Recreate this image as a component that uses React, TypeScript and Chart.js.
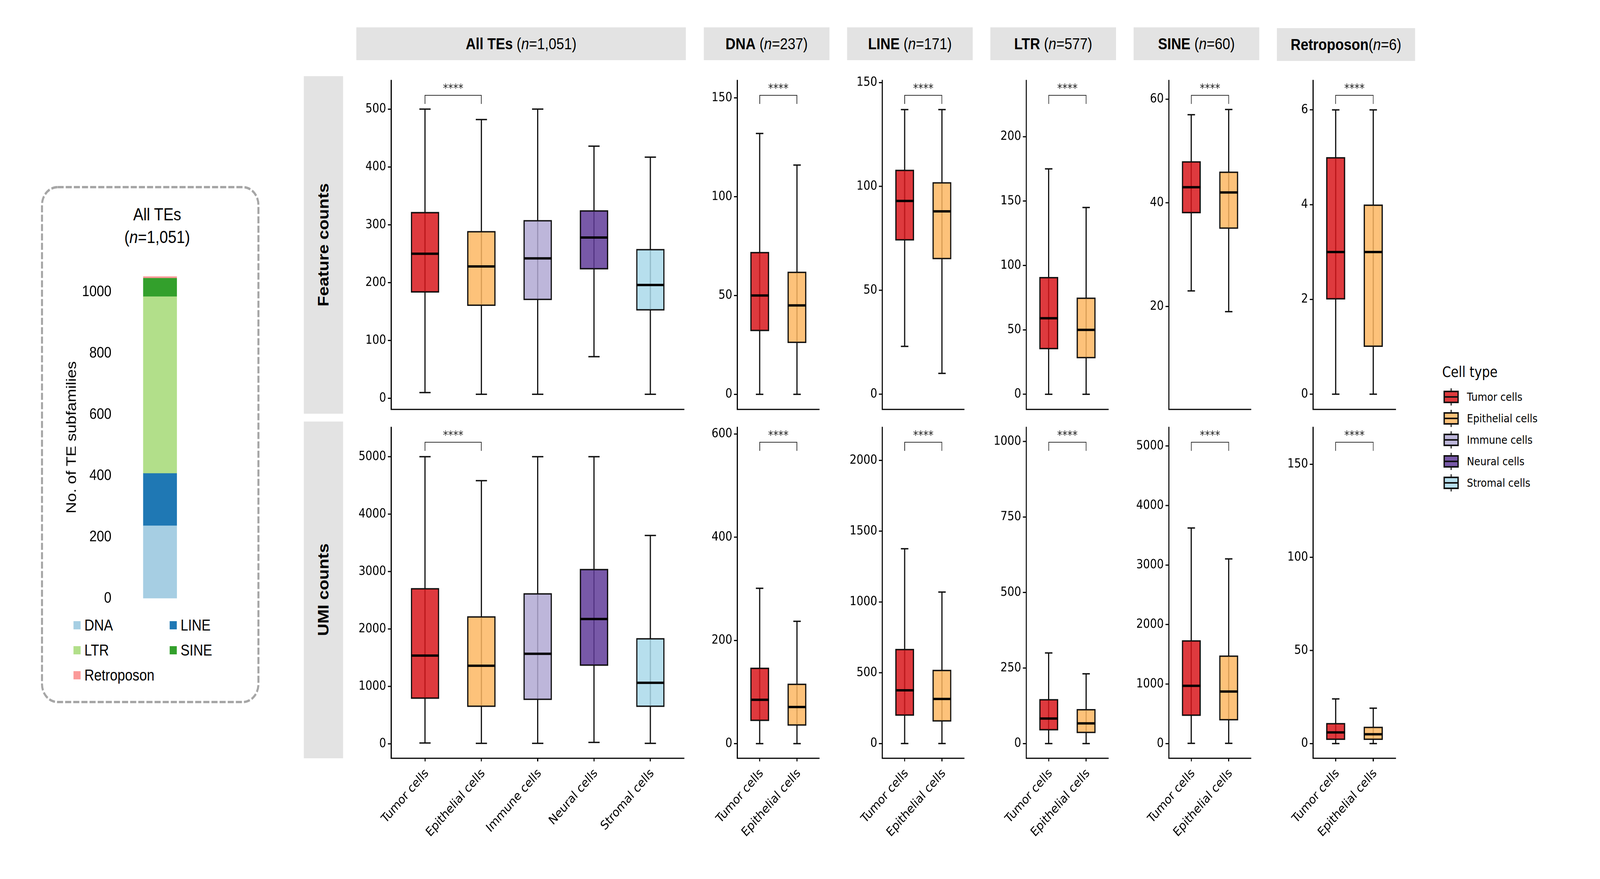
import { useEffect, useRef } from "react";
import { Chart, registerables } from "chart.js";

Chart.register(...registerables);

const MONO = "'DejaVu Sans', sans-serif";
const SANS = "'Liberation Sans', Arial, sans-serif";
const INK = "#111111";

// the layout below is in reference pixels; the page is fitted to the real window
const PAGE_W = 4724;
const PAGE_H = 2250;

// stacked bar
const families = ["DNA", "LINE", "LTR", "SINE", "Retroposon"];
const familyCounts = [237, 171, 577, 60, 6];
const familyColors = ["#A6CEE3", "#1F78B4", "#B2DF8A", "#33A02C", "#FB9A99"];
const stackTicks = [0, 200, 400, 600, 800, 1000];

// cell types
const cellTypes = ["Tumor cells", "Epithelial cells", "Immune cells", "Neural cells", "Stromal cells"];
const cellFills = [
  "rgba(216,23,28,0.85)",
  "rgba(253,183,99,0.85)",
  "rgba(177,169,212,0.85)",
  "rgba(96,60,153,0.85)",
  "rgba(170,217,234,0.85)",
];
const cellKeys = ["#DE3A3D", "#FDC27A", "#BDB6DA", "#7859A8", "#B7DFED"];

// boxes: [low whisker, q1, median, q3, high whisker]
const allFeature = [[10, 183, 250, 322, 500], [7, 160, 228, 289, 482], [7, 170, 242, 308, 500], [72, 223, 278, 325, 436], [7, 152, 196, 258, 417]];
const dnaFeature = [[0, 32, 50, 72, 132], [0, 26, 45, 62, 116]];
const lineFeature = [[23, 74, 93, 108, 137], [10, 65, 88, 102, 137]];
const ltrFeature = [[0, 35, 59, 91, 175], [0, 28, 50, 75, 145]];
const sineFeature = [[23, 38, 43, 48, 57], [19, 35, 42, 46, 58]];
const retroFeature = [[0, 2, 3, 5, 6], [0, 1, 3, 4, 6]];

const allUmi = [[16, 787, 1538, 2711, 5000], [10, 646, 1361, 2221, 4583], [10, 766, 1569, 2622, 5000], [26, 1361, 2174, 3045, 5000], [10, 646, 1064, 1840, 3629]];
const dnaUmi = [[0, 44, 85, 147, 301], [0, 35, 71, 116, 237]];
const lineUmi = [[0, 197, 376, 668, 1376], [0, 156, 315, 520, 1070]];
const ltrUmi = [[0, 44, 83, 147, 300], [0, 35, 67, 114, 231]];
const sineUmi = [[5, 468, 971, 1735, 3622], [5, 392, 875, 1479, 3103]];
const retroUmi = [[0, 2, 6, 11, 24], [0, 2, 5, 9, 19]];

// y ticks
const allFeatureTicks = [0, 100, 200, 300, 400, 500];
const dnaFeatureTicks = [0, 50, 100, 150];
const lineFeatureTicks = [0, 50, 100, 150];
const ltrFeatureTicks = [0, 50, 100, 150, 200];
const sineFeatureTicks = [20, 40, 60];
const retroFeatureTicks = [0, 2, 4, 6];
const allUmiTicks = [0, 1000, 2000, 3000, 4000, 5000];
const dnaUmiTicks = [0, 200, 400, 600];
const lineUmiTicks = [0, 500, 1000, 1500, 2000];
const ltrUmiTicks = [0, 250, 500, 750, 1000];
const sineUmiTicks = [0, 1000, 2000, 3000, 4000, 5000];
const retroUmiTicks = [0, 50, 100, 150];

const columns = [
  { axisX: 1155, plotW: 865, strip: [1052, 2025, 70], name: "All TEs", n: " (", count: "=1,051)" },
  { axisX: 2177, plotW: 242, strip: [2078, 2449, 70], name: "DNA", n: " (", count: "=237)" },
  { axisX: 2605, plotW: 242, strip: [2501, 2872, 70], name: "LINE", n: " (", count: "=171)" },
  { axisX: 3030, plotW: 243, strip: [2924, 3295, 70], name: "LTR", n: " (", count: "=577)" },
  { axisX: 3451, plotW: 243, strip: [3347, 3718, 70], name: "SINE", n: " (", count: "=60)" },
  { axisX: 3877, plotW: 244, strip: [3770, 4178, 72], name: "Retroposon", n: "(", count: "=6)" },
];
const rows = [
  { top: 206, bottom: 1052, label: "Feature counts", stripTop: 195, stripBottom: 1059, below: 20 },
  { top: 1094, bottom: 1941, label: "UMI counts", stripTop: 1079, stripBottom: 1941, below: 300 },
];
const featurePanels = [
  { boxes: allFeature, ticks: allFeatureTicks, range: [-19, 549.5] },
  { boxes: dnaFeature, ticks: dnaFeatureTicks, range: [-7.6, 158.8] },
  { boxes: lineFeature, ticks: lineFeatureTicks, range: [-7.3, 151] },
  { boxes: ltrFeature, ticks: ltrFeatureTicks, range: [-11.7, 243.6] },
  { boxes: sineFeature, ticks: sineFeatureTicks, range: [0.15, 63.6] },
  { boxes: retroFeature, ticks: retroFeatureTicks, range: [-0.32, 6.62] },
];
const umiPanels = [
  { boxes: allUmi, ticks: allUmiTicks, range: [-250, 5510] },
  { boxes: dnaUmi, ticks: dnaUmiTicks, range: [-28.4, 612.8] },
  { boxes: lineUmi, ticks: lineUmiTicks, range: [-104, 2233] },
  { boxes: ltrUmi, ticks: ltrUmiTicks, range: [-48.6, 1046.6] },
  { boxes: sineUmi, ticks: sineUmiTicks, range: [-246, 5312] },
  { boxes: retroUmi, ticks: retroUmiTicks, range: [-7.9, 169.8] },
];

const GUTTER = 200;
const HEAD = 30;

// whiskers go under the translucent boxes, medians and the bracket over them
function boxMarks(boxes: number[][]) {
  return {
    id: "boxMarks",
    beforeDatasetsDraw(chart: any) {
      const { ctx, scales: { x, y } } = chart;
      ctx.save();
      ctx.strokeStyle = INK;
      ctx.lineWidth = 3.5;
      boxes.forEach((b, i) => {
        const cx = x.getPixelForValue(i);
        ctx.beginPath();
        ctx.moveTo(cx, y.getPixelForValue(b[0]));
        ctx.lineTo(cx, y.getPixelForValue(b[4]));
        for (const end of [b[0], b[4]]) {
          ctx.moveTo(x.getPixelForValue(i - 0.1), y.getPixelForValue(end));
          ctx.lineTo(x.getPixelForValue(i + 0.1), y.getPixelForValue(end));
        }
        ctx.stroke();
      });
      ctx.restore();
    },
    afterDatasetsDraw(chart: any) {
      const { ctx, chartArea, scales: { x, y } } = chart;
      ctx.save();
      ctx.strokeStyle = "#000";
      ctx.lineWidth = 6;
      boxes.forEach((b, i) => {
        ctx.beginPath();
        ctx.moveTo(x.getPixelForValue(i - 0.25), y.getPixelForValue(b[2]));
        ctx.lineTo(x.getPixelForValue(i + 0.25), y.getPixelForValue(b[2]));
        ctx.stroke();
      });
      const x0 = x.getPixelForValue(0);
      const x1 = x.getPixelForValue(1);
      ctx.strokeStyle = "#333";
      ctx.lineWidth = 2;
      ctx.beginPath();
      ctx.moveTo(x0, chartArea.top + 60);
      ctx.lineTo(x0, chartArea.top + 38);
      ctx.lineTo(x1, chartArea.top + 38);
      ctx.lineTo(x1, chartArea.top + 60);
      ctx.stroke();
      ctx.fillStyle = "#222";
      ctx.font = `30px ${MONO}`;
      ctx.textAlign = "center";
      ctx.textBaseline = "alphabetic";
      ctx.fillText("****", (x0 + x1) / 2, chartArea.top + 30);
      ctx.restore();
    },
  };
}

function BoxPanel({ col, row, panel, showLabels }: any) {
  const ref = useRef<HTMLCanvasElement>(null);
  const plotH = row.bottom - row.top;
  const n = panel.boxes.length;
  useEffect(() => {
    if (!ref.current) return;
    const chart = new Chart(ref.current, {
      type: "bar",
      data: {
        datasets: [
          {
            data: panel.boxes.map((b: number[], i: number) => ({ x: i, y: [b[1], b[3]] })),
            backgroundColor: cellFills.slice(0, n),
            borderColor: INK,
            borderWidth: 3.5,
            borderSkipped: false,
            barThickness: (col.plotW / (n + 0.2)) * 0.5,
          },
        ],
      },
      options: {
        animation: false,
        responsive: false,
        devicePixelRatio: 2,
        events: [],
        layout: { padding: { top: HEAD, right: 20, left: 0, bottom: 0 } },
        plugins: { legend: { display: false }, tooltip: { enabled: false } },
        scales: {
          x: {
            type: "linear",
            offset: false,
            min: -0.6,
            max: n - 0.4,
            bounds: "data",
            afterFit: (s: any) => { s.height = row.below; },
            afterBuildTicks: (s: any) => { s.ticks = panel.boxes.map((_: any, i: number) => ({ value: i })); },
            grid: { offset: false, drawOnChartArea: false, drawTicks: showLabels, tickLength: 8, tickWidth: 3, tickColor: "#000" },
            border: { display: true, color: "#000", width: 3 },
            ticks: {
              display: showLabels,
              autoSkip: false,
              minRotation: 45,
              maxRotation: 45,
              padding: 12,
              labelOffset: 6,
              color: "#000",
              font: { family: MONO, size: 32 },
              callback: (v: any) => cellTypes[v],
            },
          },
          y: {
            type: "linear",
            min: panel.range[0],
            max: panel.range[1],
            bounds: "data",
            afterFit: (s: any) => { s.width = GUTTER; },
            afterBuildTicks: (s: any) => { s.ticks = panel.ticks.map((value: number) => ({ value })); },
            grid: { drawOnChartArea: false, tickLength: 10, tickWidth: 3, tickColor: "#000" },
            border: { display: true, color: "#000", width: 3 },
            ticks: { padding: 5, autoSkip: false, color: "#000", font: { family: MONO, size: 32 }, callback: (v: any) => String(v) },
          },
        },
      },
      plugins: [boxMarks(panel.boxes)],
    } as any);
    return () => chart.destroy();
  }, []);
  return (
    <canvas
      ref={ref}
      width={GUTTER + col.plotW + 20}
      height={HEAD + plotH + row.below}
      style={{ position: "absolute", left: col.axisX - GUTTER, top: row.top - HEAD, display: "block" }}
    />
  );
}

function StackedBar() {
  const ref = useRef<HTMLCanvasElement>(null);
  useEffect(() => {
    if (!ref.current) return;
    const chart = new Chart(ref.current, {
      type: "bar",
      data: {
        labels: ["All TEs"],
        datasets: families.map((f, i) => ({
          label: f,
          data: [familyCounts[i]],
          backgroundColor: familyColors[i],
          barThickness: 99,
        })),
      },
      options: {
        animation: false,
        responsive: false,
        devicePixelRatio: 2,
        events: [],
        layout: { padding: { top: 30, bottom: 30 } },
        plugins: { legend: { display: false }, tooltip: { enabled: false } },
        scales: {
          x: { stacked: true, display: false },
          y: {
            stacked: true,
            min: 0,
            max: 1051,
            afterFit: (s: any) => { s.width = 164; },
            afterBuildTicks: (s: any) => { s.ticks = stackTicks.map((value) => ({ value })); },
            grid: { display: false },
            border: { display: false },
            ticks: { padding: 8, color: "#000", font: { family: SANS, size: 39 }, callback: (v: any) => String(v) },
            title: { display: true, text: "No. of TE subfamilies", color: "#000", font: { family: SANS, size: 41 }, padding: { top: 7, bottom: 0 } },
          },
        },
      },
    } as any);
    return () => chart.destroy();
  }, []);
  return <canvas ref={ref} width={419} height={887} style={{ position: "absolute", left: 181, top: 676, display: "block" }} />;
}

function LegendKey({ top, fill }: { top: number; fill: string }) {
  return (
    <svg width={50} height={44} style={{ position: "absolute", left: 4260, top, display: "block" }}>
      <line x1={24.5} x2={24.5} y1={0} y2={44} stroke={INK} strokeWidth={3} />
      <rect x={4} y={8} width={41} height={28} fill={fill} stroke={INK} strokeWidth={4} />
      <line x1={4} x2={45} y1={22} y2={22} stroke={INK} strokeWidth={4} />
    </svg>
  );
}

const abs = { position: "absolute", whiteSpace: "nowrap" } as const;

export default function App() {
  const fit = `scale(${window.innerWidth / PAGE_W}, ${window.innerHeight / PAGE_H})`;
  return (
    <div
      style={{
        position: "absolute",
        left: 0,
        top: 0,
        width: PAGE_W,
        height: PAGE_H,
        overflow: "hidden",
        background: "#fff",
        color: "#000",
        transform: fit,
        transformOrigin: "0 0",
      }}
    >
      {/* dashed frame on the left */}
      <svg width={700} height={1360} style={{ position: "absolute", left: 100, top: 460, display: "block" }}>
        <rect x={24} y={19} width={639} height={1318} rx={46} ry={46} fill="none" stroke="#A6A6A6" strokeWidth={6} strokeDasharray="18 6" />
      </svg>
      <div style={{ ...abs, left: 264, width: 400, top: 520, textAlign: "center", fontFamily: SANS, fontSize: 45, lineHeight: "58px" }}>
        All TEs
        <br />(<i>n</i>=1,051)
      </div>
      <StackedBar />
      {families.map((f, i) => {
        const col = i % 2;
        const y = 1600 + Math.floor(i / 2) * 64;
        return (
          <div key={f}>
            <div style={{ position: "absolute", left: col ? 501 : 217, top: y - 10, width: 21, height: 21, background: familyColors[i] }} />
            <div style={{ ...abs, left: col ? 533 : 249, top: y - 25, fontFamily: SANS, fontSize: 40, lineHeight: "50px" }}>{f}</div>
          </div>
        );
      })}

      {/* strips */}
      {columns.map((c) => (
        <div
          key={c.name}
          style={{
            ...abs,
            left: c.strip[0],
            width: c.strip[1] - c.strip[0],
            top: c.strip[2],
            height: 84,
            background: "#E3E3E3",
            display: "flex",
            alignItems: "center",
            justifyContent: "center",
            fontFamily: SANS,
            fontSize: 41,
          }}
        >
          <span>
            <b>{c.name}</b>
            {c.n}
            <i>n</i>
            {c.count}
          </span>
        </div>
      ))}
      {rows.map((r) => (
        <div
          key={r.label}
          style={{
            ...abs,
            left: 897,
            width: 116,
            top: r.stripTop,
            height: r.stripBottom - r.stripTop,
            background: "#E3E3E3",
            display: "flex",
            alignItems: "center",
            justifyContent: "center",
            fontFamily: SANS,
            fontWeight: 700,
            fontSize: 44,
          }}
        >
          <span style={{ writingMode: "vertical-rl", transform: "rotate(180deg)" }}>{r.label}</span>
        </div>
      ))}

      {/* box panels */}
      {columns.map((c, i) => (
        <BoxPanel key={`f${i}`} col={c} row={rows[0]} panel={featurePanels[i]} showLabels={false} />
      ))}
      {columns.map((c, i) => (
        <BoxPanel key={`u${i}`} col={c} row={rows[1]} panel={umiPanels[i]} showLabels={true} />
      ))}

      {/* cell type legend */}
      <div style={{ ...abs, left: 4258, top: 930, fontFamily: MONO, fontSize: 37, lineHeight: "46px" }}>Cell type</div>
      {cellTypes.map((t, i) => (
        <div key={t}>
          <LegendKey top={994 + i * 55} fill={cellKeys[i]} />
          <div style={{ ...abs, left: 4331, top: 996 + i * 55, fontFamily: MONO, fontSize: 29, lineHeight: "40px" }}>{t}</div>
        </div>
      ))}
    </div>
  );
}
